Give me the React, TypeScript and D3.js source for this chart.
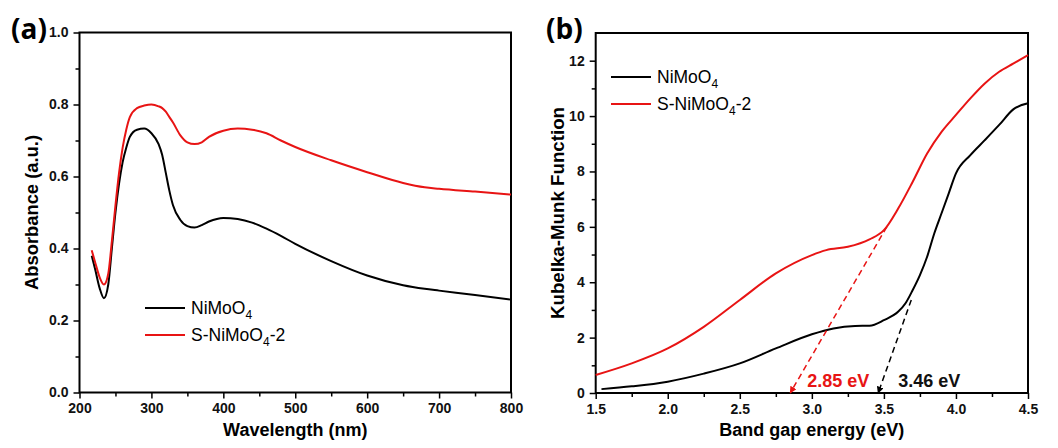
import React, { useEffect, useRef } from 'react';
import * as d3 from 'd3';

// panel (a) UV-vis absorbance
const wavelength = [217, 222, 228, 234, 240, 245, 250, 255, 260, 265, 270, 280, 290, 300, 310, 315, 320, 325, 330, 340, 350, 360, 370, 380, 400, 420, 440, 460, 480, 500, 550, 600, 650, 680, 700, 750, 800];
const absNiMoO4 = [0.38, 0.34, 0.29, 0.262, 0.3, 0.4, 0.5, 0.58, 0.64, 0.68, 0.71, 0.73, 0.733, 0.72, 0.69, 0.66, 0.61, 0.56, 0.52, 0.48, 0.462, 0.458, 0.465, 0.475, 0.485, 0.482, 0.472, 0.455, 0.435, 0.413, 0.365, 0.325, 0.298, 0.288, 0.283, 0.271, 0.258];
const absSNiMoO4 = [0.395, 0.36, 0.32, 0.3, 0.33, 0.42, 0.52, 0.61, 0.68, 0.73, 0.765, 0.79, 0.797, 0.8, 0.795, 0.79, 0.78, 0.765, 0.75, 0.715, 0.695, 0.69, 0.695, 0.71, 0.727, 0.733, 0.73, 0.72, 0.7, 0.682, 0.645, 0.612, 0.582, 0.57, 0.566, 0.558, 0.55];

// panel (b) Kubelka-Munk
const energyNi = [1.54, 1.75, 2.0, 2.25, 2.5, 2.75, 3.0, 3.15, 3.3, 3.4, 3.5, 3.6, 3.65, 3.7, 3.75, 3.8, 3.85, 3.9, 3.95, 4.0, 4.1, 4.2, 4.3, 4.4, 4.5];
const kmNiMoO4 = [0.14, 0.24, 0.41, 0.7, 1.07, 1.61, 2.12, 2.33, 2.42, 2.43, 2.63, 2.94, 3.24, 3.72, 4.26, 4.92, 5.77, 6.49, 7.21, 7.93, 8.59, 9.13, 9.68, 10.25, 10.46];
const energyS = [1.5, 1.75, 2.0, 2.25, 2.5, 2.75, 3.0, 3.1, 3.25, 3.4, 3.5, 3.6, 3.7, 3.8, 3.9, 4.0, 4.1, 4.2, 4.3, 4.4, 4.5];
const kmSNiMoO4 = [0.65, 1.07, 1.61, 2.39, 3.36, 4.32, 4.98, 5.16, 5.28, 5.55, 5.88, 6.67, 7.63, 8.65, 9.43, 10.04, 10.64, 11.18, 11.6, 11.9, 12.2];

const tangentS = [[3.52, 6.0], [2.85, 0]];
const tangentNi = [[3.69, 3.36], [3.46, 0]];

const xTicksA = [200, 300, 400, 500, 600, 700, 800];
const yTicksA = [0.0, 0.2, 0.4, 0.6, 0.8, 1.0];
const xTicksB = [1.5, 2.0, 2.5, 3.0, 3.5, 4.0, 4.5];
const yTicksB = [0, 2, 4, 6, 8, 10, 12];

const RED = '#e81414';
const FONT = "'Liberation Sans', Arial, sans-serif";

const App = () => {
  const svgRef = useRef(null);

  useEffect(() => {
    const svg = d3.select(svgRef.current);
    svg.selectAll('*').remove();

    const defs = svg.append('defs');
    [['arrRed', RED], ['arrBlack', '#000']].forEach(([id, c]) => {
      defs.append('marker')
        .attr('id', id)
        .attr('viewBox', '0 0 10 10')
        .attr('refX', 9).attr('refY', 5)
        .attr('markerWidth', 7).attr('markerHeight', 7)
        .attr('markerUnits', 'userSpaceOnUse')
        .attr('orient', 'auto')
        .append('path')
        .attr('d', 'M0,0 L10,5 L0,10 Z')
        .attr('fill', c);
    });

    const drawPanel = (p) => {
      const x = d3.scaleLinear().domain(p.xDomain).range([p.left, p.right]);
      const y = d3.scaleLinear().domain(p.yDomain).range([p.bottom, p.top]);
      const g = svg.append('g');

      // minor ticks
      g.append('g')
        .attr('transform', `translate(0,${p.bottom})`)
        .call(d3.axisBottom(x).tickValues(p.xMinor).tickSize(4).tickFormat(''))
        .call((a) => a.select('.domain').remove())
        .selectAll('line').attr('stroke-width', 1.5);
      g.append('g')
        .attr('transform', `translate(${p.left},0)`)
        .call(d3.axisLeft(y).tickValues(p.yMinor).tickSize(4).tickFormat(''))
        .call((a) => a.select('.domain').remove())
        .selectAll('line').attr('stroke-width', 1.5);

      // major ticks
      const xa = g.append('g')
        .attr('transform', `translate(0,${p.bottom})`)
        .call(d3.axisBottom(x).tickValues(p.xTicks).tickSize(6).tickPadding(5).tickFormat(p.xFormat));
      const ya = g.append('g')
        .attr('transform', `translate(${p.left},0)`)
        .call(d3.axisLeft(y).tickValues(p.yTicks).tickSize(6).tickPadding(5).tickFormat(p.yFormat));
      [xa, ya].forEach((a) => {
        a.select('.domain').remove();
        a.selectAll('line').attr('stroke-width', 1.5);
        a.selectAll('text')
          .attr('font-family', FONT)
          .attr('font-weight', 'bold')
          .attr('font-size', 14)
          .attr('fill', '#111');
      });

      // frame
      g.append('rect')
        .attr('x', p.left).attr('y', p.top)
        .attr('width', p.right - p.left).attr('height', p.bottom - p.top)
        .attr('fill', 'none').attr('stroke', '#000').attr('stroke-width', 2);

      // curves
      p.series.forEach((s) => {
        const pts = s.xs.map((v, i) => [v, s.ys[i]]);
        g.append('path')
          .datum(pts)
          .attr('fill', 'none')
          .attr('stroke', s.color)
          .attr('stroke-width', 2)
          .attr('d', d3.line().x((d) => x(d[0])).y((d) => y(d[1])).curve(d3.curveMonotoneX));
      });

      // axis titles
      g.append('text')
        .attr('x', (p.left + p.right) / 2)
        .attr('y', 436)
        .attr('text-anchor', 'middle')
        .attr('font-family', FONT).attr('font-weight', 'bold').attr('font-size', 18)
        .text(p.xTitle);
      g.append('text')
        .attr('transform', `translate(${p.yTitleX},${(p.top + p.bottom) / 2}) rotate(-90)`)
        .attr('text-anchor', 'middle')
        .attr('font-family', FONT).attr('font-weight', 'bold').attr('font-size', 18)
        .attr('textLength', p.yTitleLen)
        .attr('lengthAdjust', 'spacingAndGlyphs')
        .text(p.yTitle);

      // panel label
      g.append('text')
        .attr('x', p.labelX).attr('y', 39)
        .attr('font-family', "'Open Sans', 'DejaVu Sans', sans-serif")
        .attr('font-weight', 'bold').attr('font-size', 28)
        .text(p.label);

      // legend
      p.series.forEach((s, i) => {
        const ly = p.legendY + i * 27;
        g.append('line')
          .attr('x1', p.legendX).attr('x2', p.legendX + 40)
          .attr('y1', ly).attr('y2', ly)
          .attr('stroke', s.color).attr('stroke-width', 2);
        const t = g.append('text')
          .attr('x', p.legendX + 46).attr('y', ly + 6)
          .attr('font-family', FONT).attr('font-size', 17.5);
        t.append('tspan').text(s.pre);
        t.append('tspan').attr('font-size', 12).attr('dy', 5).text('4');
        if (s.post) t.append('tspan').attr('dy', -5).text(s.post);
      });

      return { x, y, g };
    };

    drawPanel({
      xDomain: [200, 800], yDomain: [0, 1],
      left: 79.5, right: 511, top: 32.5, bottom: 392.5,
      xTicks: xTicksA, yTicks: yTicksA,
      xMinor: d3.range(250, 800, 100), yMinor: d3.range(0.1, 1, 0.2),
      xFormat: d3.format('d'), yFormat: d3.format('.1f'),
      xTitle: 'Wavelength (nm)', yTitle: 'Absorbance (a.u.)', yTitleX: 38, yTitleLen: 155,
      label: '(a)', labelX: 11,
      legendX: 145, legendY: 308,
      series: [
        { xs: wavelength, ys: absNiMoO4, color: '#000', pre: 'NiMoO', post: '' },
        { xs: wavelength, ys: absSNiMoO4, color: RED, pre: 'S-NiMoO', post: '-2' },
      ],
    });

    const b = drawPanel({
      xDomain: [1.5, 4.5], yDomain: [0, 13],
      left: 595.7, right: 1028, top: 33, bottom: 393,
      xTicks: xTicksB, yTicks: yTicksB,
      xMinor: d3.range(1.75, 4.5, 0.5), yMinor: d3.range(1, 13, 2),
      xFormat: d3.format('.1f'), yFormat: d3.format('d'),
      xTitle: 'Band gap energy (eV)', yTitle: 'Kubelka-Munk Function', yTitleX: 564, yTitleLen: 212,
      label: '(b)', labelX: 546,
      legendX: 611, legendY: 77,
      series: [
        { xs: energyNi, ys: kmNiMoO4, color: '#000', pre: 'NiMoO', post: '' },
        { xs: energyS, ys: kmSNiMoO4, color: RED, pre: 'S-NiMoO', post: '-2' },
      ],
    });

    // tangent extrapolations
    [[tangentS, RED, 'arrRed'], [tangentNi, '#000', 'arrBlack']].forEach(([pts, c, m]) => {
      b.g.append('path')
        .datum(pts)
        .attr('fill', 'none')
        .attr('stroke', c)
        .attr('stroke-width', 1.5)
        .attr('stroke-dasharray', '6,4')
        .attr('marker-end', `url(#${m})`)
        .attr('d', d3.line().x((d) => b.x(d[0])).y((d) => b.y(d[1])));
    });
    b.g.append('text')
      .attr('x', b.x(2.85) + 17).attr('y', 387)
      .attr('font-family', FONT).attr('font-weight', 'bold').attr('font-size', 18)
      .attr('fill', RED)
      .text('2.85 eV');
    b.g.append('text')
      .attr('x', b.x(3.46) + 20).attr('y', 387)
      .attr('font-family', FONT).attr('font-weight', 'bold').attr('font-size', 18)
      .attr('fill', '#111')
      .text('3.46 eV');
  }, []);

  return (
    <svg
      ref={svgRef}
      width={1058}
      height={448}
      style={{ position: 'absolute', left: 0, top: 0, background: '#fff' }}
    ></svg>
  );
};

export default App;
